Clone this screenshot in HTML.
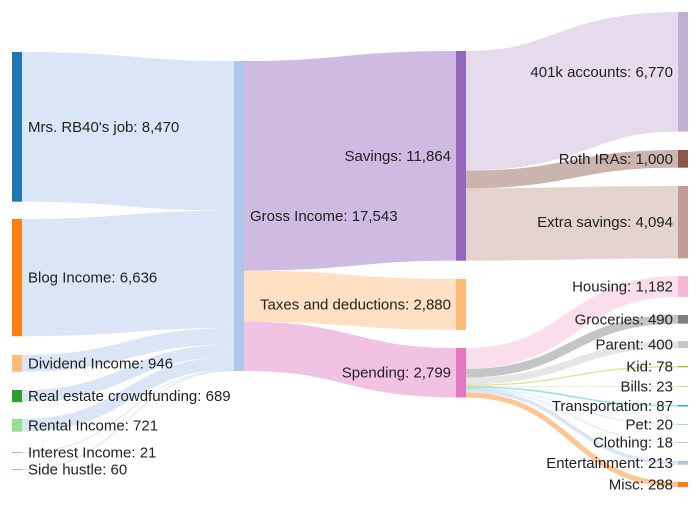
<!DOCTYPE html>
<html><head><meta charset="utf-8"><style>
body{margin:0;background:#fff}
svg text{font-family:"Liberation Sans",Arial,sans-serif;font-size:15px;fill:#222}
</style></head><body>
<svg id="chart" width="700" height="500" xmlns="http://www.w3.org/2000/svg"></svg>
<script>
const nodeNames=["Mrs. RB40's job","Blog Income","Dividend Income","Real estate crowdfunding","Rental Income","Interest Income","Side hustle","Gross Income","Savings","Taxes and deductions","Spending","401k accounts","Roth IRAs","Extra savings","Housing","Groceries","Parent","Kid","Bills","Transportation","Pet","Clothing","Entertainment","Misc"];
const linkSources=[0,1,2,3,4,5,6,7,7,7,8,8,8,10,10,10,10,10,10,10,10,10,10];
const linkTargets=[7,7,7,7,7,7,7,8,9,10,11,12,13,14,15,16,17,18,19,20,21,22,23];
const linkValues=[8470,6636,946,689,721,21,60,11864,2880,2799,6770,1000,4094,1182,490,400,78,23,87,20,18,213,288];
// layout (not data)
const nodeCol=[0,0,0,0,0,0,0,1,2,2,2,3,3,3,3,3,3,3,3,3,3,3,3,3];
const nodeTop=[52,219,355,390,419,452,469,61,51,279,348,12,150,186,276,315,341,366,386,405,424,442,461,482];
const colX=[12,234,456,678];
const colors=["#1f77b4","#ff7f0e","#ffbb78","#2ca02c","#98df8a","#ff9896","#ff9896","#aec7e8","#9467bd","#ffbb78","#e377c2","#c5b0d5","#8c564b","#c49c94","#f7b6d2","#7f7f7f","#c7c7c7","#bcbd22","#dbdb8d","#17becf","#9edae5","#aec7e8","#aec7e8","#ff7f0e"];
const linkColors=["#aec7e8","#aec7e8","#aec7e8","#aec7e8","#aec7e8","#aec7e8","#aec7e8","#9467bd","#ffbb78","#e377c2","#c5b0d5","#8c564b","#c49c94","#f7b6d2","#7f7f7f","#c7c7c7","#bcbd22","#dbdb8d","#17becf","#9edae5","#aec7e8","#aec7e8","#ff7f0e"];
const S=310/17543, NW=10;
const svg=document.getElementById('chart');
const NS='http://www.w3.org/2000/svg';
function fmt(v){return v.toLocaleString('en-US');}
const nodeVal=nodeNames.map((_,i)=>{let a=0,b=0;linkValues.forEach((v,k)=>{if(linkSources[k]===i)a+=v;if(linkTargets[k]===i)b+=v;});return Math.max(a,b);});
const outOff=nodeTop.slice(), inOff=nodeTop.slice();
const gl=document.createElementNS(NS,'g');svg.appendChild(gl);
linkValues.forEach((v,k)=>{
  const s=linkSources[k],t=linkTargets[k],h=Math.max(v*S,1);
  const y0=outOff[s]+h/2, y1=inOff[t]+h/2; outOff[s]+=v*S; inOff[t]+=v*S;
  const x0=colX[nodeCol[s]]+NW, x1=colX[nodeCol[t]], mx=(x0+x1)/2;
  const p=document.createElementNS(NS,'path');
  p.setAttribute('d',`M${x0},${y0}C${mx},${y0} ${mx},${y1} ${x1},${y1}`);
  p.setAttribute('fill','none');p.setAttribute('stroke',linkColors[k]);
  p.setAttribute('stroke-width',h);p.setAttribute('stroke-opacity',0.45);
  
  
  gl.appendChild(p);
});
nodeNames.forEach((n,i)=>{
  const h=Math.max(nodeVal[i]*S,1),x=colX[nodeCol[i]],y=nodeTop[i];
  const slug=n.toLowerCase().replace(/[^a-z0-9]+/g,'-');
  const r=document.createElementNS(NS,'rect');
  r.setAttribute('x',x);r.setAttribute('y',y);r.setAttribute('width',NW);r.setAttribute('height',h);
  r.setAttribute('fill',colors[i]);
  
  
  svg.appendChild(r);
  const t=document.createElementNS(NS,'text');
  const c=nodeCol[i];
  if(c<2){t.setAttribute('x',x+NW+6);}else{t.setAttribute('x',x-5);t.setAttribute('text-anchor','end');}
  t.setAttribute('y',y+h/2+5);
  t.textContent=n+': '+fmt(nodeVal[i]);
  
  
  svg.appendChild(t);
});
</script>
</body></html>
